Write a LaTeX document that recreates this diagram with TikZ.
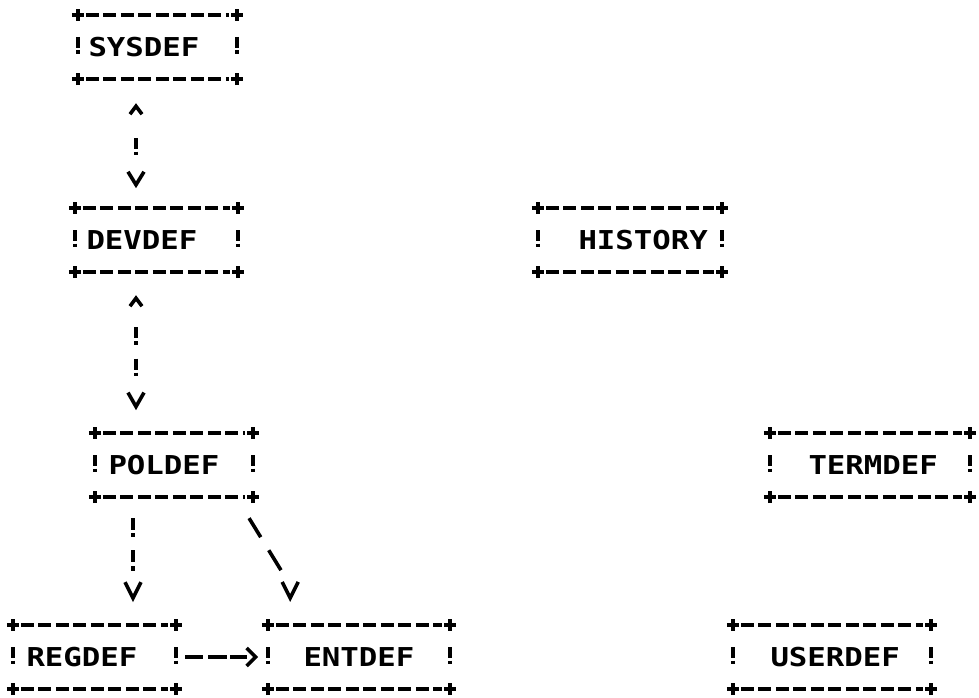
\documentclass[tikz,border=0pt]{standalone}
\usepackage{fontspec}
\newfontfamily\dotfont{DejaVu Sans Mono}[FakeStretch=1.18]
\usetikzlibrary{arrows.meta,decorations.markings}
\tikzset{
  box/.style={inner sep=0pt, minimum height=64pt,
    font=\dotfont\bfseries\fontsize{26}{26}\selectfont},
  ruleline/.style={line width=3.6pt, dash pattern=on 13pt off 4.5pt},
  plusmark/.style={line width=3.6pt},
  barmark/.style={line width=3.6pt},
  conn/.style={line width=3.6pt, postaction={decorate}}
}
\newcommand{\boxdeco}[1]{%
  \draw[ruleline] ([xshift=8pt]#1.north west) -- ([xshift=-8pt]#1.north east);
  \draw[ruleline] ([xshift=8pt]#1.south west) -- ([xshift=-8pt]#1.south east);
  \foreach \cn in {north west,north east,south west,south east}{
    \draw[plusmark] ([xshift=-6pt]#1.\cn) -- ([xshift=6pt]#1.\cn)
                    ([yshift=-6pt]#1.\cn) -- ([yshift=6pt]#1.\cn);
  }
  \foreach \sd in {west,east}{
    \draw[barmark] ([yshift=10pt]#1.\sd) -- ([yshift=-1pt]#1.\sd)
                   ([yshift=-3.5pt]#1.\sd) -- ([yshift=-7pt]#1.\sd);
  }
}
\begin{document}
\begin{tikzpicture}[x=1pt,y=-1pt]
\useasboundingbox (0,0) rectangle (979,698);
\fill[white] (0,0) rectangle (979,698);

% boxes
\node[box] (sysdef)  at (157.5,47) {\makebox[159pt][l]{\hspace*{10.5pt}SYSDEF}};
\node[box] (devdef)  at (156.5,240) {\makebox[163pt][l]{\hspace*{11.5pt}DEVDEF}};
\node[box] (history) at (630,240) {\makebox[184pt][l]{\hspace*{40.5pt}HISTORY}};
\node[box] (poldef)  at (174,465) {\makebox[158pt][l]{\hspace*{13.5pt}POLDEF}};
\node[box] (termdef) at (870,465) {\makebox[200pt][l]{\hspace*{38.5pt}TERMDEF}};
\node[box] (regdef)  at (94.5,657) {\makebox[163pt][l]{\hspace*{13.5pt}REGDEF}};
\node[box] (entdef)  at (359,657) {\makebox[182pt][l]{\hspace*{35.5pt}ENTDEF}};
\node[box] (userdef) at (832,657) {\makebox[198pt][l]{\hspace*{37.5pt}USERDEF}};

\foreach \nm in {sysdef,devdef,history,poldef,termdef,regdef,entdef,userdef}{\boxdeco{\nm}}

% SYSDEF <-> DEVDEF
\coordinate (c1) at ([xshift=-21.5pt]sysdef.south);
\draw[conn, dash pattern=on 0pt off 59pt on 11pt off 2.5pt on 3pt off 200pt,
  decoration={markings,
    mark=at position 24pt with {\arrowreversed{Straight Barb[length=8pt,width=12pt]}},
    mark=at position 109pt with {\arrow{Straight Barb[length=13pt,width=16pt]}}}]
  (c1) -- (c1 |- devdef.north);

% DEVDEF <-> POLDEF
\coordinate (c2) at ([xshift=-20.5pt]devdef.south);
\draw[conn, dash pattern=on 0pt off 55pt on 11pt off 3pt on 3.5pt off 14pt on 11pt off 3pt on 3.5pt off 200pt,
  decoration={markings,
    mark=at position 23pt with {\arrowreversed{Straight Barb[length=8pt,width=12pt]}},
    mark=at position 138pt with {\arrow{Straight Barb[length=14pt,width=16pt]}}}]
  (c2) -- (c2 |- poldef.north);

% POLDEF -> REGDEF
\coordinate (c3) at ([xshift=-41pt]poldef.south);
\draw[conn, dash pattern=on 0pt off 21pt on 12pt off 3pt on 4pt off 13pt on 12pt off 4pt on 5pt off 200pt,
  decoration={markings,
    mark=at position 105pt with {\arrow{Straight Barb[length=16pt,width=16pt]}}}]
  (c3) -- (c3 |- regdef.north);

% POLDEF -> ENTDEF
\coordinate (c4) at ([xshift=-17pt]poldef.south east);
\coordinate (q4) at ([shift={(54,88)}]c4);
\draw[conn, dash pattern=on 0pt off 24.6pt on 22.3pt off 15.3pt on 23.4pt off 300pt,
  decoration={markings,
    mark=at position 120pt with {\arrow{Straight Barb[length=16pt,width=16pt]}}}]
  (c4) -- (q4) -- (q4 |- entdef.north);

% REGDEF -> ENTDEF
\draw[conn, dash pattern=on 0pt off 9pt on 18pt off 5pt on 19pt off 3pt on 17pt off 300pt,
  decoration={markings,
    mark=at position 82pt with {\arrow{Straight Barb[length=9pt,width=18pt]}}}]
  (regdef.east) -- (entdef.west);
\end{tikzpicture}
\end{document}
